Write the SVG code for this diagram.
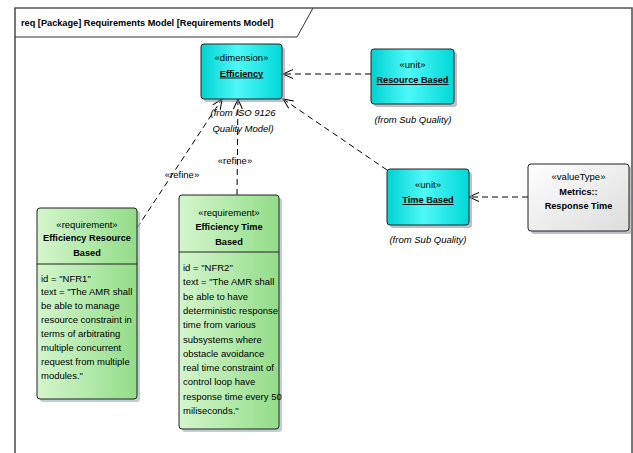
<svg xmlns="http://www.w3.org/2000/svg" width="633" height="453" viewBox="0 0 633 453">
<defs>
<style>
text{font-family:"Liberation Sans",Arial,sans-serif;font-size:9.5px;fill:#000}
.b{font-weight:bold;font-size:9.2px}
.c{text-anchor:middle}
.i{font-style:italic}
.u{text-decoration:underline}
.box{stroke:#222;stroke-width:1}
.sh{fill:#8a8a9a;opacity:0.55}
.con{fill:none;stroke:#000;stroke-width:1;stroke-dasharray:6 4}
</style>
<linearGradient id="cy" x1="0" y1="0" x2="1" y2="0">
<stop offset="0" stop-color="#00d2d2"/>
<stop offset="0.45" stop-color="#4ff8f8"/>
<stop offset="1" stop-color="#00d8d8"/>
</linearGradient>
<linearGradient id="gr" x1="0" y1="0" x2="1" y2="0">
<stop offset="0" stop-color="#d4f5cc"/>
<stop offset="0.5" stop-color="#b4eaab"/>
<stop offset="1" stop-color="#92dc88"/>
</linearGradient>
<linearGradient id="wh" x1="0" y1="0" x2="1" y2="1">
<stop offset="0" stop-color="#ffffff"/>
<stop offset="1" stop-color="#dcdcdc"/>
</linearGradient>
<marker id="ah" viewBox="-11 -6 12 12" markerWidth="12" markerHeight="12" refX="0" refY="0" orient="auto" markerUnits="userSpaceOnUse">
<path d="M-10,-4.5 L0,0 L-10,4.5" fill="none" stroke="#000" stroke-width="1"/>
</marker>
</defs>
<rect width="633" height="453" fill="#fff"/>
<g id="frame">
<path d="M15,453 L15,8 L632,8 L632,453" fill="none" stroke="#555" stroke-width="1.6"/>
<path d="M15,37 L297,37 L313,8" fill="none" stroke="#333" stroke-width="1"/>
<text class="b" x="21" y="25.5">req [Package] Requirements Model [Requirements Model]</text>
</g>
<g id="connectors">
<line class="con" x1="371" y1="74" x2="283" y2="74" marker-end="url(#ah)"/>
<line class="con" x1="387" y1="170" x2="283" y2="99" marker-end="url(#ah)"/>
<line class="con" x1="528" y1="197" x2="469" y2="197" marker-end="url(#ah)"/>
<line class="con" x1="137" y1="228" x2="222" y2="99" marker-end="url(#ah)"/>
<line class="con" x1="237" y1="195" x2="238" y2="99" marker-end="url(#ah)"/>
<text class="c" x="182" y="177.5">«refine»</text>
<text class="c" x="235" y="163.5">«refine»</text>
</g>
<g id="efficiency">
<rect class="sh" x="204" y="47" width="81" height="55" rx="3"/>
<rect class="box" x="201" y="44" width="81" height="55" rx="3" fill="url(#cy)"/>
<text class="c" x="241.5" y="61">«dimension»</text>
<text class="c b u" x="241.5" y="76.5">Efficiency</text>
<text class="c i" x="243" y="115.5">(from ISO 9126</text>
<text class="c i" x="243" y="131.5">Quality Model)</text>
</g>
<g id="resource-based">
<rect class="sh" x="374" y="52" width="83" height="55" rx="3"/>
<rect class="box" x="371" y="49" width="83" height="55" rx="3" fill="url(#cy)"/>
<text class="c" x="412.5" y="68">«unit»</text>
<text class="c b u" x="412.5" y="83">Resource Based</text>
<text class="c i" x="413" y="123">(from Sub Quality)</text>
</g>
<g id="time-based">
<rect class="sh" x="390" y="172" width="82" height="56" rx="3"/>
<rect class="box" x="387" y="169" width="82" height="56" rx="3" fill="url(#cy)"/>
<text class="c" x="428" y="188">«unit»</text>
<text class="c b u" x="428" y="203">Time Based</text>
<text class="c i" x="428" y="243">(from Sub Quality)</text>
</g>
<g id="metrics-response-time">
<rect class="sh" x="531" y="167" width="101" height="67" rx="3"/>
<rect class="box" x="528" y="164" width="101" height="67" rx="3" fill="url(#wh)"/>
<text class="c" x="578.5" y="180">«valueType»</text>
<text class="c b" x="578.5" y="195">Metrics::</text>
<text class="c b" x="578.5" y="208.5">Response Time</text>
</g>
<g id="efficiency-resource-based">
<rect x="40" y="211" width="100" height="191" rx="3" fill="#a9b6cc" opacity="0.7"/>
<rect class="box" x="37" y="208" width="100" height="191" rx="3" fill="url(#gr)"/>
<line x1="37" y1="264" x2="137" y2="264" stroke="#222"/>
<text class="c" x="87" y="227.5">«requirement»</text>
<text class="c b" x="87" y="240.5">Efficiency Resource</text>
<text class="c b" x="87" y="255.5">Based</text>
<text x="41" y="281.5">id = "NFR1"</text>
<text x="41" y="295.4">text = "The AMR shall</text>
<text x="41" y="309.3">be able to manage</text>
<text x="41" y="323.2">resource constraint in</text>
<text x="41" y="337.1">terms of arbitrating</text>
<text x="41" y="351">multiple concurrent</text>
<text x="41" y="364.9">request from multiple</text>
<text x="41" y="378.8">modules."</text>
</g>
<g id="efficiency-time-based">
<rect x="182" y="198" width="100" height="234" rx="3" fill="#a9b6cc" opacity="0.7"/>
<rect class="box" x="179" y="195" width="100" height="234" rx="3" fill="url(#gr)"/>
<line x1="179" y1="252" x2="279" y2="252" stroke="#222"/>
<text class="c" x="229" y="216">«requirement»</text>
<text class="c b" x="229" y="230">Efficiency Time</text>
<text class="c b" x="229" y="245">Based</text>
<text x="183" y="271">id = "NFR2"</text>
<text x="183" y="285.3">text = "The AMR shall</text>
<text x="183" y="299.6">be able to have</text>
<text x="183" y="313.9">deterministic response</text>
<text x="183" y="328.2">time from various</text>
<text x="183" y="342.5">subsystems where</text>
<text x="183" y="356.8">obstacle avoidance</text>
<text x="183" y="371.1">real time constraint of</text>
<text x="183" y="385.4">control loop have</text>
<text x="183" y="399.7">response time every 50</text>
<text x="183" y="414">miliseconds."</text>
</g>
</svg>
